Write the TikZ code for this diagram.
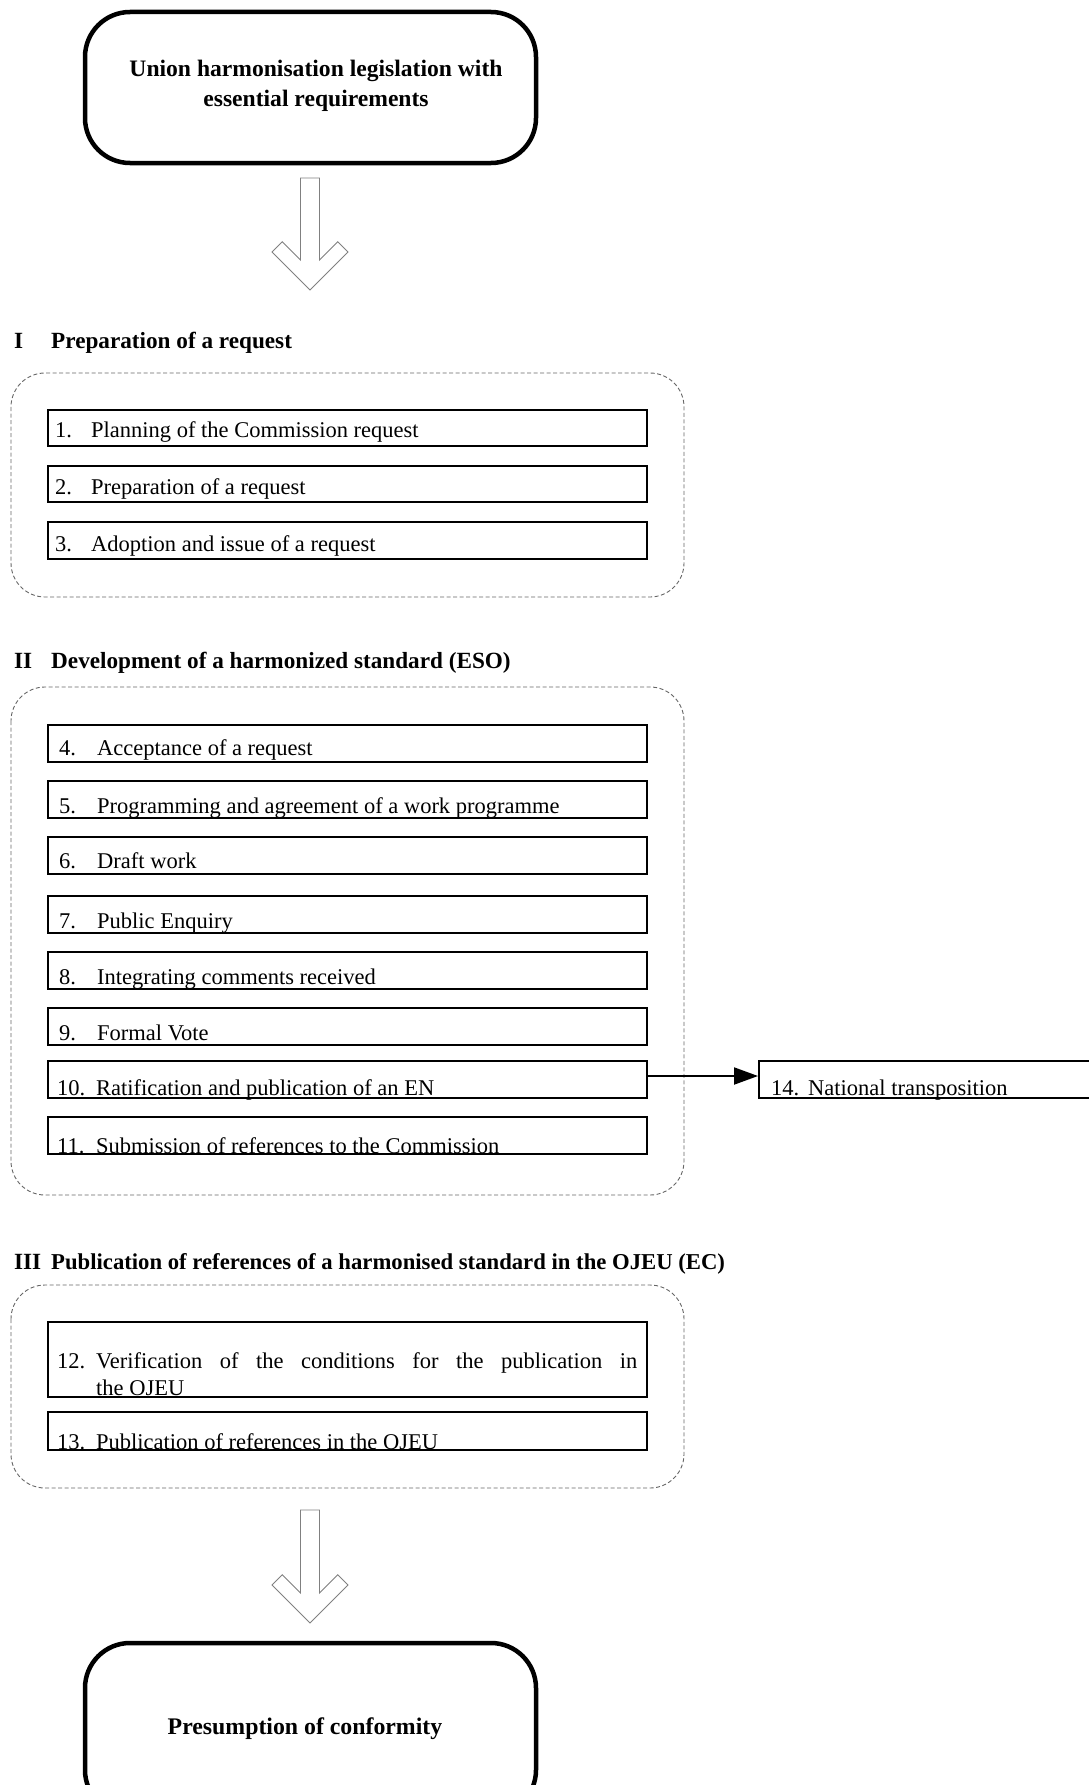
\documentclass[tikz,border=0pt]{standalone}
\usepackage{fontspec}
\setmainfont{Liberation Serif}
\usetikzlibrary{arrows.meta}
\newcommand{\hollowarrow}[3]{\draw[hollow] (#1-9.5,#2) -- (#1-9.5,#3-30) -- (#1-27.75,#3-48.25) -- (#1-38,#3-38) -- (#1,#3) -- (#1+38,#3-38) -- (#1+27.75,#3-48.25) -- (#1+9.5,#3-30) -- (#1+9.5,#2) -- cycle;}
\begin{document}
\begin{tikzpicture}[x=1pt,y=-1pt,
 bigbox/.style={draw, line width=4.5pt, rounded corners=45pt, minimum width=451pt, inner sep=0pt},
 group/.style={draw=black!60, dash pattern=on 4pt off 2.5pt, line width=0.9pt, rounded corners=34pt},
 stepbox/.style={draw, line width=2pt, minimum width=599pt, inner sep=0pt},
 itemtxt/.style={anchor=base west, inner sep=0pt, font=\fontsize{22.5}{27}\selectfont},
 headtxt/.style={anchor=base west, inner sep=0pt, font=\bfseries\fontsize{23.2}{28}\selectfont},
 hollow/.style={draw=gray, line width=0.9pt, fill=white},
 link/.style={line width=2pt, -{Triangle[length=24pt,width=17pt]}}
]
\useasboundingbox (0,0) rectangle (1089,1785);

% top box
\node[bigbox, minimum height=151pt] (top) at (310.5,87.5) {};
\node[font=\bfseries\fontsize{23.6}{29.5}\selectfont, align=center, inner sep=0pt] (toptext) at (316,86) {Union harmonisation legislation with\\essential requirements};

\hollowarrow{310}{178}{290}

% Section I
\node[headtxt] (h1n) at (14,348) {I};
\node[headtxt] (h1) at (51,348) {Preparation of a request};
\draw[group] (11,373) rectangle (684,597);
\node[stepbox, minimum height=36pt] (s1) at (347.5,428) {};
\node[itemtxt] (n1) at (55,437) {1.};
\node[itemtxt] (t1) at (91,437) {Planning of the Commission request};
\node[stepbox, minimum height=36pt] (s2) at (347.5,484) {};
\node[itemtxt] (n2) at (55,494) {2.};
\node[itemtxt] (t2) at (91,494) {Preparation of a request};
\node[stepbox, minimum height=37pt] (s3) at (347.5,540.5) {};
\node[itemtxt] (n3) at (55,551) {3.};
\node[itemtxt] (t3) at (91,551) {Adoption and issue of a request};

% Section II
\node[headtxt] (h2n) at (14,668) {II};
\node[headtxt] (h2) at (51,668) {Development of a harmonized standard (ESO)};
\draw[group] (11,687) rectangle (684,1195);
\node[stepbox, minimum height=37pt] (s4) at (347.5,743.5) {};
\node[itemtxt] (n4) at (59,755) {4.};
\node[itemtxt] (t4) at (97,755) {Acceptance of a request};
\node[stepbox, minimum height=37pt] (s5) at (347.5,799.5) {};
\node[itemtxt] (n5) at (59,813) {5.};
\node[itemtxt] (t5) at (97,813) {Programming and agreement of a work programme};
\node[stepbox, minimum height=37pt] (s6) at (347.5,855.5) {};
\node[itemtxt] (n6) at (59,868) {6.};
\node[itemtxt] (t6) at (97,868) {Draft work};
\node[stepbox, minimum height=37pt] (s7) at (347.5,914.5) {};
\node[itemtxt] (n7) at (59,928) {7.};
\node[itemtxt] (t7) at (97,928) {Public Enquiry};
\node[stepbox, minimum height=37pt] (s8) at (347.5,970.5) {};
\node[itemtxt] (n8) at (59,984) {8.};
\node[itemtxt] (t8) at (97,984) {Integrating comments received};
\node[stepbox, minimum height=37pt] (s9) at (347.5,1026.5) {};
\node[itemtxt] (n9) at (59,1040) {9.};
\node[itemtxt] (t9) at (97,1040) {Formal Vote};
\node[stepbox, minimum height=37pt] (s10) at (347.5,1079.5) {};
\node[itemtxt] (n10) at (57,1095) {10.};
\node[itemtxt] (t10) at (96,1095) {Ratification and publication of an EN};
\node[stepbox, minimum height=37pt] (s11) at (347.5,1135.5) {};
\node[itemtxt] (n11) at (57,1153) {11.};
\node[itemtxt] (t11) at (96,1153) {Submission of references to the Commission};

% box 14
\node[stepbox, minimum width=351pt, minimum height=37pt] (s14) at (934.5,1079.5) {};
\node[itemtxt] (n14) at (771,1095) {14.};
\node[itemtxt] (t14) at (808,1095) {National transposition};
\draw[link] ([yshift=3.5pt]s10.east) -- ([yshift=3.5pt]s14.west);

% Section III
\node[headtxt] (h3n) at (14,1269) {III};
\node[headtxt, font=\bfseries\fontsize{22.7}{28}\selectfont] (h3) at (51,1269) {Publication of references of a harmonised standard in the OJEU (EC)};
\draw[group] (11,1285) rectangle (684,1488);
\node[stepbox, minimum height=75pt] (s12) at (347.5,1359.5) {};
\node[itemtxt] (n12) at (57,1368) {12.};
\node[anchor=base west, inner sep=0pt, text width=541pt, align=justify, font=\fontsize{22.5}{27}\selectfont] (t12) at (96,1368) {Verification of the conditions for the publication in\linebreak the OJEU};
\node[stepbox, minimum height=38pt] (s13) at (347.5,1431) {};
\node[itemtxt] (n13) at (57,1449) {13.};
\node[itemtxt] (t13) at (96,1449) {Publication of references in the OJEU};

\hollowarrow{310}{1510}{1623}

% bottom box
\node[bigbox, minimum height=172pt] (bot) at (310.5,1729) {};
\node[font=\bfseries\fontsize{23.8}{29}\selectfont, inner sep=0pt] (bottext) at (305,1729) {Presumption of conformity};
\end{tikzpicture}
\end{document}
